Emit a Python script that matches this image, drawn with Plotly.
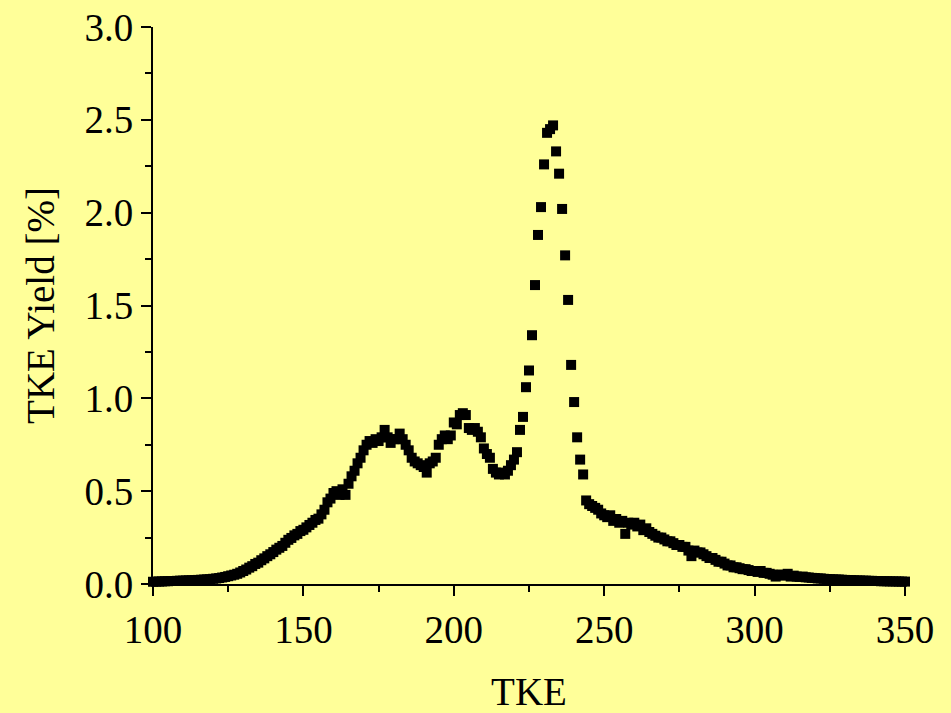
import plotly.graph_objects as go

tke = list(range(100, 351))

yield_100_149 = [
    0.012, 0.013, 0.013, 0.014, 0.015, 0.015, 0.016, 0.016, 0.017, 0.018,
    0.018, 0.019, 0.020, 0.020, 0.021, 0.022, 0.023, 0.024, 0.025, 0.026,
    0.028, 0.030, 0.032, 0.035, 0.038, 0.042, 0.046, 0.050, 0.055, 0.062,
    0.070, 0.078, 0.088, 0.096, 0.108, 0.115, 0.128, 0.138, 0.150, 0.160,
    0.172, 0.185, 0.195, 0.205, 0.222, 0.238, 0.248, 0.262, 0.270, 0.285,
]
yield_150_199 = [
    0.292, 0.305, 0.318, 0.330, 0.345, 0.352, 0.375, 0.40, 0.44, 0.46,
    0.49, 0.50, 0.48, 0.51, 0.48, 0.54, 0.58, 0.61, 0.65, 0.68,
    0.72, 0.75, 0.77, 0.76, 0.78, 0.77, 0.79, 0.83, 0.79, 0.76,
    0.78, 0.78, 0.81, 0.78, 0.75, 0.72, 0.68, 0.66, 0.65, 0.64,
    0.63, 0.60, 0.65, 0.66, 0.68, 0.75, 0.78, 0.80, 0.78, 0.80,
]
yield_200_249 = [
    0.87, 0.86, 0.91, 0.92, 0.91, 0.84, 0.83, 0.84, 0.82, 0.79,
    0.73, 0.70, 0.68, 0.62, 0.60, 0.59, 0.60, 0.59, 0.61, 0.64,
    0.67, 0.71, 0.83, 0.90, 1.06, 1.15, 1.34, 1.61, 1.88, 2.03,
    2.26, 2.43, 2.45, 2.47, 2.33, 2.21, 2.02, 1.77, 1.53, 1.18,
    0.98, 0.79, 0.67, 0.59, 0.45, 0.43, 0.42, 0.41, 0.40, 0.38,
]
yield_250_299 = [
    0.37, 0.36, 0.37, 0.34, 0.35, 0.33, 0.34, 0.27, 0.33, 0.32,
    0.33, 0.31, 0.32, 0.29, 0.30, 0.28, 0.27, 0.26, 0.25, 0.25,
    0.24, 0.23, 0.23, 0.22, 0.21, 0.21, 0.20, 0.20, 0.18, 0.15,
    0.18, 0.17, 0.17, 0.16, 0.15, 0.14, 0.14, 0.13, 0.12, 0.12,
    0.11, 0.10, 0.10, 0.09, 0.09, 0.085, 0.08, 0.08, 0.075, 0.07,
]
yield_300_350 = [
    0.07, 0.065, 0.07, 0.06, 0.06, 0.055, 0.05, 0.04, 0.05, 0.05,
    0.045, 0.055, 0.04, 0.045, 0.040, 0.038, 0.040, 0.036, 0.035, 0.033,
    0.032, 0.030, 0.030, 0.028, 0.027, 0.026, 0.025, 0.024, 0.024, 0.023,
    0.022, 0.021, 0.021, 0.020, 0.019, 0.019, 0.018, 0.018, 0.017, 0.017,
    0.016, 0.016, 0.015, 0.015, 0.015, 0.014, 0.014, 0.014, 0.013, 0.013, 0.013,
]
tke_yield = yield_100_149 + yield_150_199 + yield_200_249 + yield_250_299 + yield_300_350

x_ticks = [100, 150, 200, 250, 300, 350]
y_ticks = [0.0, 0.5, 1.0, 1.5, 2.0, 2.5, 3.0]
y_tick_text = ["0.0", "0.5", "1.0", "1.5", "2.0", "2.5", "3.0"]

BG = "#FFFF99"
FONT = "Liberation Serif"

fig = go.Figure()
fig.add_trace(go.Scatter(
    x=tke, y=tke_yield, mode="markers",
    marker=dict(symbol="square", size=10, color="black", line=dict(width=0)),
    cliponaxis=False, showlegend=False,
))

axis_common = dict(
    showline=True, linecolor="black", linewidth=2,
    ticks="outside", ticklen=10, tickwidth=2, tickcolor="black",
    showgrid=False, zeroline=False, mirror=False, automargin=False,
    tickfont=dict(family=FONT, size=39, color="black"),
)

fig.update_xaxes(
    range=[100, 350], tickvals=x_ticks,
    minor=dict(dtick=25, tick0=100, ticks="outside", ticklen=6, tickwidth=2, tickcolor="black"),
    title=dict(text="TKE", font=dict(family=FONT, size=39, color="black"), standoff=30),
    **axis_common,
)
fig.update_yaxes(
    range=[0, 3], tickvals=y_ticks, ticktext=y_tick_text,
    minor=dict(dtick=0.25, tick0=0, ticks="outside", ticklen=6, tickwidth=2, tickcolor="black"),
    title=dict(text="TKE Yield [%]", font=dict(family=FONT, size=39, color="black"), standoff=18),
    **axis_common,
)

fig.update_layout(
    width=951, height=713,
    margin=dict(l=153, r=46, t=27, b=129),
    paper_bgcolor=BG, plot_bgcolor=BG,
)

fig.write_html("out.html")
